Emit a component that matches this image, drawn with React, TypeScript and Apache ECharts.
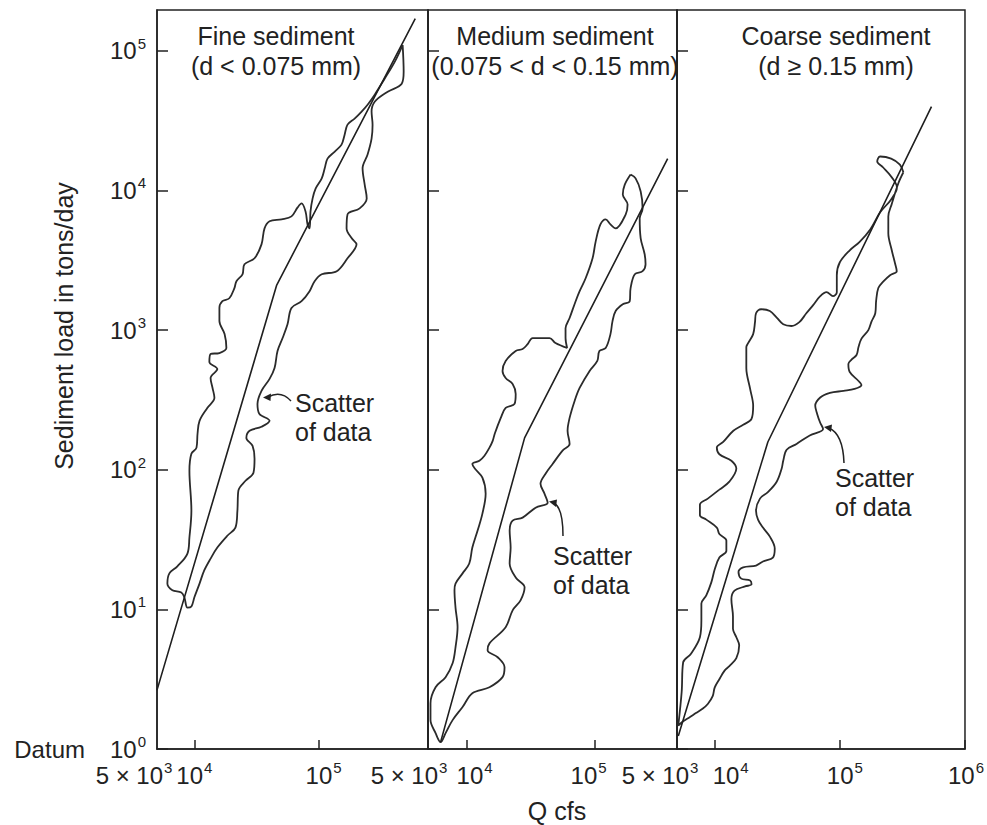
import React, { useEffect, useRef } from 'react';
import * as echarts from 'echarts';

// ---------- data (Q in cfs, sediment load in tons/day) ----------
const panelTitles: string[][] = [
  ['Fine sediment', '(d < 0.075 mm)'],
  ['Medium sediment', '(0.075 < d < 0.15 mm)'],
  ['Coarse sediment', '(d \u2265 0.15 mm)'],
];
const qMin = 5000;
const qMaxByPanel = [760000, 440000, 1000000];
const qDecadeTicksByPanel: number[][] = [[10000, 100000], [10000, 100000], [10000, 100000, 1000000]];
const qMinLabel = ['5 \u00d7 10', '3'];
const loadMin = 1;
const loadMax = 196000;
const loadTicks = [1, 10, 100, 1000, 10000, 100000];

const fineRating: number[][] = [[5000, 2.64], [46000, 2100], [600000, 170000]];
const mediumRating: number[][] = [[6270, 1.12], [28400, 169], [372000, 16900]];
const coarseRating: number[][] = [[5120, 1.24], [26600, 158], [540000, 39800]];

const fineEnvelope: number[][] = [
  [475000, 110000], [484000, 70800], [467000, 58100], [360000, 50900], [283000, 43200],
  [267000, 36700], [272000, 29600], [267000, 23500], [248000, 18100], [226000, 14400],
  [235000, 11000], [244000, 8770], [214000, 7440], [171000, 6740], [168000, 5350],
  [185000, 4540], [202000, 4110], [171000, 3270], [140000, 2640], [106000, 2510],
  [92900, 2240], [84600, 1900], [72900, 1610], [60500, 1440], [56200, 1100],
  [51300, 877], [46700, 708], [44200, 535], [40300, 447], [34700, 367],
  [32200, 296], [33400, 251], [40300, 224], [34700, 203], [27800, 190],
  [26200, 169], [29400, 148], [30500, 120], [29900, 95.2], [25800, 83.4],
  [22600, 70.8], [22200, 50.9], [21400, 38.5], [18500, 33.8], [15300, 27.7],
  [13500, 23.1], [12000, 19.0], [11000, 15.3], [10000, 12.2], [9460, 10.5],
  [8790, 10.3], [8300, 12.2], [7850, 13.2], [6650, 13.7], [6060, 15.3],
  [6290, 18.1], [7290, 20.3], [8790, 25.1], [9120, 32.7], [9460, 50.9],
  [9120, 98.4], [9460, 130], [10400, 144], [10600, 181], [11000, 224],
  [12700, 277], [14500, 327], [14000, 385], [13500, 454], [15300, 526],
  [13200, 591], [13500, 674], [15900, 685], [18100, 744], [17500, 936],
  [15900, 1160], [15900, 1440], [16800, 1610], [19100, 1690], [21000, 2000],
  [21800, 2240], [24400, 2510], [25300, 2960], [30500, 3270], [34700, 4110],
  [36700, 5350], [40300, 6010], [50400, 6210], [60500, 6520], [67800, 7560],
  [72900, 8070], [78500, 7080], [81500, 5710], [84600, 5350], [86100, 7080],
  [89500, 8770], [94600, 10300], [106000, 12200], [112000, 14400], [118000, 16900],
  [135000, 19000], [153000, 21300], [162000, 25100], [171000, 29600], [195000, 32700],
  [222000, 36700], [248000, 41100], [283000, 48500], [340000, 63100], [410000, 83400],
  [475000, 110000],
];

const mediumEnvelope: number[][] = [
  [191000, 13000], [209000, 12200], [229000, 9840], [237000, 7440], [225000, 6310],
  [229000, 4540], [246000, 3490], [250000, 2960], [237000, 2640], [206000, 2510],
  [191000, 2000], [188000, 1610], [166000, 1530], [146000, 1370], [138000, 1160],
  [133000, 936], [122000, 744], [109000, 708], [105000, 601], [91400, 510],
  [76400, 385], [69800, 311], [63800, 235], [61500, 190], [63800, 153],
  [56200, 137], [47000, 110], [41400, 93.6], [37800, 79.4], [40600, 67.4],
  [43000, 58.1], [34600, 53.5], [27400, 45.4], [22900, 43.2], [21700, 36.7],
  [22100, 27.7], [21700, 21.3], [24200, 16.9], [28400, 14.4], [26400, 11.6],
  [22900, 9.84], [20200, 7.44], [15100, 5.71], [14600, 5.1], [17500, 4.54],
  [19800, 3.85], [19100, 3.27], [15100, 2.77], [11100, 2.51], [9310, 2.0],
  [7780, 1.61], [6860, 1.3], [6270, 1.12],
  [5730, 1.3], [5230, 1.61], [5230, 2.13], [5730, 2.77], [6860, 3.27],
  [7780, 4.11], [8200, 5.35], [8510, 7.44], [8200, 10.3], [8050, 13.7],
  [8200, 15.3], [9310, 18.1], [10500, 21.3], [11100, 27.7], [12200, 36.7],
  [13300, 48.5], [14100, 67.4], [13300, 87.7], [11600, 102], [11100, 110],
  [12600, 116], [13800, 126], [15100, 144], [16000, 161], [16600, 181],
  [18500, 235], [20200, 277], [23700, 296], [24200, 349], [22900, 411],
  [20200, 454], [19100, 510], [20200, 601], [24200, 708], [27400, 731],
  [30000, 794], [32800, 877], [44500, 877], [49500, 807], [61000, 744],
  [59300, 877], [59300, 1030], [63800, 1220], [71100, 1610], [76400, 1900],
  [85100, 2350], [96400, 3270], [102000, 4320], [111000, 5710], [122000, 6210],
  [133000, 5710], [146000, 5350], [175000, 6740], [181000, 7940], [166000, 9360],
  [172000, 11000], [191000, 13000],
];

const coarseEnvelope: number[][] = [
  [322000, 13500], [294000, 11300], [260000, 8010], [244000, 6520], [244000, 4930],
  [260000, 3730], [276000, 3010], [285000, 2640], [252000, 2470], [222000, 2220],
  [203000, 2000], [195000, 1620], [192000, 1320], [179000, 1150], [169000, 1000],
  [149000, 869], [141000, 756], [136000, 663], [124000, 615], [117000, 572],
  [120000, 501], [141000, 432], [149000, 405], [131000, 379], [107000, 367],
  [83400, 355], [69700, 329], [63600, 287], [65900, 251], [69700, 217],
  [73500, 196], [57500, 176], [45100, 153], [37600, 139], [35300, 116],
  [34300, 102], [31300, 82.1], [26600, 69.1], [23000, 62.1], [21400, 50.9],
  [22200, 43.9], [24300, 38.5], [27600, 33.2], [30200, 27.3], [29200, 23.5],
  [24300, 22.0], [21400, 20.6], [16900, 20.0], [15500, 18.5], [16300, 16.6],
  [19200, 16.1], [19700, 15.1], [17500, 14.6], [14400, 13.6], [13600, 11.8],
  [14000, 8.91], [14000, 7.26], [14900, 6.31], [15700, 5.53], [14900, 4.47],
  [13100, 3.92], [12000, 3.64], [10900, 3.16], [10000, 2.75], [9640, 2.39],
  [8810, 2.1], [8050, 1.95], [7080, 1.81], [6310, 1.69], [5600, 1.58],
  [5120, 1.47],
  [5450, 2.57], [5600, 4.18], [6470, 4.81], [7620, 6.31], [7830, 8.35],
  [7830, 11.0], [8570, 12.6], [9400, 15.6], [10000, 19.3], [10900, 23.5],
  [12400, 26.2], [12400, 31.1], [10900, 34.6], [10400, 38.5], [8570, 43.9],
  [7620, 47.3], [7620, 56.2], [8810, 62.1], [10900, 72.0], [13100, 82.1],
  [14900, 102], [13600, 116], [10900, 129], [10400, 144], [11700, 158],
  [14100, 190], [16900, 210], [19700, 231], [20300, 287], [19200, 379],
  [17900, 535], [17900, 756], [18500, 807], [20300, 936], [21000, 1140],
  [21400, 1320], [23500, 1410], [27600, 1370], [31300, 1230], [35300, 1100],
  [41100, 1070], [47500, 1140], [54000, 1320], [61200, 1510], [69700, 1750],
  [78300, 1870], [88100, 1750], [94600, 1870], [94600, 2470], [100000, 3060],
  [120000, 3730], [144000, 4290], [175000, 5260], [210000, 6970], [257000, 8630],
  [286000, 10500], [257000, 12600], [222000, 14600], [199000, 16100], [210000, 17500],
  [257000, 16900], [302000, 15300], [322000, 13500],
];

const envelopes = [fineEnvelope, mediumEnvelope, coarseEnvelope];
const ratings = [fineRating, mediumRating, coarseRating];
const yAxisTitle = 'Sediment load in tons/day';
const xAxisTitle = 'Q cfs';
const datumLabel = 'Datum';
const scatterLabel = ['Scatter', 'of data'];

// ---------- layout ----------
const FONT = '"Liberation Sans", Arial, Helvetica, sans-serif';
const INK = '#222';
const gridLefts = [157, 428, 677];
const gridWidths = [271, 249, 290];
const GRID_TOP = 10;
const GRID_H = 739;
// horizontal nudge (px) of the decade labels under each panel, as in the original figure
const xLabelNudge: Record<number, number>[] = [{ 4: 0, 5: 5 }, { 4: 8, 5: -6 }, { 4: 16, 5: 5, 6: 1 }];

const lg = (v: number) => Math.log10(v);
const toLogQ = (pts: number[][]) => pts.map(([q, l]) => [lg(q), l]);

function isPow10(v: number) {
  const e = Math.log10(v);
  const r = Math.round(e);
  return Math.abs(e - r) < 1e-4 ? r : null;
}

const aStyle = { fontSize: 24, fontFamily: FONT, color: INK, lineHeight: 30, verticalAlign: 'middle' };
const sStyle = { fontSize: 15, fontFamily: FONT, color: INK, verticalAlign: 'top', lineHeight: 17 };
const richBase: any = {
  a: { ...aStyle },
  s: { ...sStyle, padding: [0, 0, 0, 1] },
  d: { ...aStyle, padding: [0, 25, 0, 0] },
};

function richWithNudges(nudges: Record<number, number>) {
  const rich: any = { ...richBase };
  Object.keys(nudges).forEach((k) => {
    const n = nudges[+k];
    rich['a' + k] = { ...aStyle, padding: [0, 0, 0, n > 0 ? 2 * n : 0] };
    rich['s' + k] = { ...sStyle, padding: [0, n < 0 ? -2 * n : 0, 0, 1] };
  });
  return rich;
}

export default function App() {
  const ref = useRef<HTMLDivElement>(null);
  useEffect(() => {
    document.body.style.margin = '0';
    if (!ref.current) return;
    const chart = echarts.init(ref.current, undefined, { renderer: 'svg' });

    const grids = gridLefts.map((left, i) => ({
      left, top: GRID_TOP, width: gridWidths[i], height: GRID_H,
      show: true, borderColor: INK, borderWidth: 1.5, backgroundColor: 'transparent',
      containLabel: false,
    }));

    // x axes: value axes in log10(Q) space, ticks at the decades
    const xAxes = qMaxByPanel.map((mx, i) => {
      const decades = qDecadeTicksByPanel[i].map(lg);
      return {
        type: 'value', gridIndex: i, min: lg(qMin), max: lg(mx),
        axisLine: { show: true, lineStyle: { color: INK, width: 1.5 } },
        axisTick: { show: true, inside: true, length: 9, customValues: decades, lineStyle: { color: INK, width: 1.5 } },
        splitLine: { show: false },
        minorTick: { show: false },
        axisLabel: {
          show: true, margin: 11, customValues: decades, showMinLabel: true, showMaxLabel: true, hideOverlap: false,
          formatter: (v: number) => {
            const r = Math.round(v);
            if (Math.abs(v - r) > 1e-6) return '';
            return `{a${r}|10}{s${r}|${r}}`;
          },
          rich: richWithNudges(xLabelNudge[i]),
        },
      };
    });

    const yAxes = gridLefts.map((_, i) => ({
      type: 'log', logBase: 10, gridIndex: i, min: loadMin, max: loadMax,
      axisLine: { show: true, lineStyle: { color: INK, width: 1.5 } },
      axisTick: { show: true, inside: true, length: 11, customValues: loadTicks, lineStyle: { color: INK, width: 1.5 } },
      splitLine: { show: false },
      axisLabel: {
        show: i === 0, margin: 11, customValues: loadTicks, showMinLabel: true, showMaxLabel: true,
        formatter: (v: number) => {
          const p = isPow10(v);
          if (p === null) return '';
          if (p === 0) return `{d|${datumLabel}}{a|10}{s|0}`;
          return `{a|10}{s|${p}}`;
        },
        rich: richBase,
      },
    }));

    const series: any[] = [];
    envelopes.forEach((env, i) => {
      series.push({
        type: 'line', xAxisIndex: i, yAxisIndex: i, data: toLogQ(env), smooth: 0.35,
        symbol: 'none', silent: true,
        lineStyle: { color: '#2b2b2b', width: 1.8 },
      });
    });
    ratings.forEach((r, i) => {
      series.push({
        type: 'line', xAxisIndex: i, yAxisIndex: i, data: toLogQ(r), smooth: false,
        symbol: 'none', silent: true,
        lineStyle: { color: '#1f1f1f', width: 1.6 },
      });
    });

    const titleCenters = [276, 555, 836];
    const txt = (text: string, x: number, y: number, size: number, align: string = 'center', extra: any = {}) => ({
      type: 'text', x, y, ...extra,
      style: { text, fill: INK, font: `${size}px ${FONT}`, textAlign: align, textVerticalAlign: 'middle' },
    });

    const graphics: any[] = [];
    panelTitles.forEach((t, i) => {
      graphics.push(txt(t[0], titleCenters[i], 36, 25));
      graphics.push(txt(t[1], titleCenters[i], 66, 25));
    });
    graphics.push(txt(yAxisTitle, 64, 326, 25, 'center', { rotation: Math.PI / 2 }));
    graphics.push(txt(xAxisTitle, 557, 811, 25));

    // "5 x 10^3" labels sitting just left of each panel's left edge
    const minLabelCenters = [134, 409, 660];
    minLabelCenters.forEach((cx) => {
      graphics.push({
        type: 'text', x: cx, y: 775,
        style: {
          text: `{a|${qMinLabel[0]}}{s|${qMinLabel[1]}}`, rich: richBase,
          textAlign: 'center', textVerticalAlign: 'middle', fill: INK,
        },
      });
    });

    const scatterPos = [[295, 403], [553, 556], [835, 478]];
    scatterPos.forEach(([x, y]) => {
      graphics.push(txt(scatterLabel[0], x, y, 25, 'left'));
      graphics.push(txt(scatterLabel[1], x, y + 29, 25, 'left'));
    });

    const arrowStyle = { stroke: INK, lineWidth: 1.5, fill: 'none' };
    graphics.push({ type: 'bezierCurve', shape: { x1: 291, y1: 401, x2: 268, y2: 397, cpx1: 281, cpy1: 390 }, style: arrowStyle });
    graphics.push({ type: 'polygon', shape: { points: [[263, 397.5], [271, 393.5], [270.5, 401]] }, style: { fill: INK } });
    graphics.push({ type: 'bezierCurve', shape: { x1: 563, y1: 536, x2: 554, y2: 503, cpx1: 563, cpy1: 508 }, style: arrowStyle });
    graphics.push({ type: 'polygon', shape: { points: [[549, 501.5], [557, 499.5], [556, 507]] }, style: { fill: INK } });
    graphics.push({ type: 'bezierCurve', shape: { x1: 844, y1: 463, x2: 829, y2: 428, cpx1: 843, cpy1: 434 }, style: arrowStyle });
    graphics.push({ type: 'polygon', shape: { points: [[824, 427], [832, 424.5], [831, 432]] }, style: { fill: INK } });

    chart.setOption({
      animation: false,
      backgroundColor: '#ffffff',
      grid: grids,
      xAxis: xAxes,
      yAxis: yAxes,
      series,
      graphic: graphics,
    });
    return () => chart.dispose();
  }, []);
  return <div ref={ref} style={{ width: 987, height: 825 }} />;
}
